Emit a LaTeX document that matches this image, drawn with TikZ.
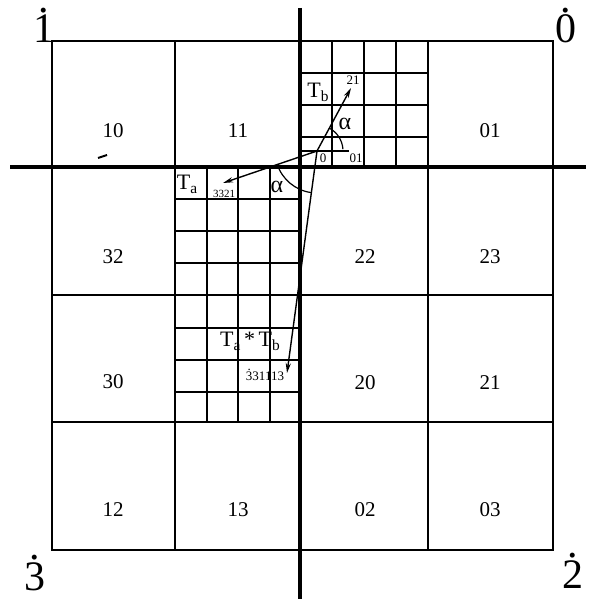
\documentclass[tikz,border=0pt]{standalone}
\usepackage{fontspec}
\setmainfont{Liberation Serif}
\usetikzlibrary{arrows.meta}
\newcommand\dotdig[1]{\ooalign{#1\cr\hidewidth\raisebox{0.72em}{\smash{.}}\hidewidth\cr}}
\newcommand\subs[1]{\raisebox{-0.4ex}{\scalebox{0.7}{#1}}}
\begin{document}
\begin{tikzpicture}[x=0.5pt,y=-0.5pt,
  gridline/.style={line width=1pt},
  fineline/.style={line width=0.85pt},
  axisline/.style={line width=2.4pt},
  vec/.style={line width=0.7pt,-{Stealth[length=5pt,width=2.6pt]}},
  anglearc/.style={line width=0.6pt},
  cell/.style={font=\fontsize{10.5}{12}\selectfont,inner sep=0pt},
  corner/.style={font=\fontsize{21}{24}\selectfont,inner sep=0pt,anchor=base},
  smalllab/.style={font=\fontsize{6.5}{7}\selectfont,inner sep=0pt},
  tinylab/.style={font=\fontsize{5.5}{6}\selectfont,inner sep=0pt},
  vlab/.style={font=\fontsize{11}{13}\selectfont,inner sep=0pt},
  alab/.style={font=\fontsize{12}{14}\selectfont,inner sep=0pt}]
\useasboundingbox (0,0) rectangle (592,599);
% fine grids
\foreach \x in {332,364,396} \draw[fineline] (\x,41) -- (\x,167);
\foreach \y in {73,105,137} \draw[fineline] (300,\y) -- (428,\y);
\draw[fineline] (300,151) -- (349,151);
\foreach \x in {207,238,270} \draw[fineline] (\x,167) -- (\x,422);
\foreach \y in {199,231,263,328,360,392} \draw[fineline] (175,\y) -- (300,\y);
% main grid
\draw[gridline] (52,41) rectangle (553,550);
\foreach \x in {175,428} \draw[gridline] (\x,41) -- (\x,550);
\foreach \y in {295,422} \draw[gridline] (52,\y) -- (553,\y);
% axes
\draw[axisline] (10,167) -- (586,167);
\draw[axisline] (300,8) -- (300,599);
% stray mark
\draw[line width=1pt] (98,158) -- (107,155);
% cell labels
\node[cell] (c10) at (113,131) {10};
\node[cell] (c11) at (238,131) {11};
\node[cell] (c01) at (490,131) {01};
\node[cell] (c32) at (113,257) {32};
\node[cell] (c22) at (365,257) {22};
\node[cell] (c23) at (490,257) {23};
\node[cell] (c30) at (113,382) {30};
\node[cell] (c20) at (365,383) {20};
\node[cell] (c21) at (490,383) {21};
\node[cell] (c12) at (113,510) {12};
\node[cell] (c13) at (238,510) {13};
\node[cell] (c02) at (365,510) {02};
\node[cell] (c03) at (490,510) {03};
% corner labels
\node[corner] (k1) at (44,43) {\dotdig{1}};
\node[corner] (k0) at (566,43) {\dotdig{0}};
\node[corner] (k3) at (35,590) {\dotdig{3}};
\node[corner] (k2) at (573,588) {\dotdig{2}};
% vectors
\coordinate (O) at (317,151);
\coordinate (Tb) at (351,88);
\coordinate (Ta) at (223,183);
\coordinate (Tab) at (287,373);
\draw[vec] (O) -- (Tb);
\draw[vec] (O) -- (Ta);
\draw[vec] (O) -- (Tab);
% angle arcs (y axis points down, so visual angles are negated)
\draw[anglearc] (O) ++(-62:26) arc[start angle=-62,end angle=-4,radius=26];
\draw[anglearc] (O) ++(162:42) arc[start angle=162,end angle=98,radius=42];
% labels
\node[vlab] (lTb) at (318,92) {T\subs{b}};
\node[smalllab] (l21) at (353,80) {21};
\node[alab] (la1) at (345,124) {α};
\node[smalllab] (l0) at (323,158) {0};
\node[smalllab] (l01) at (356,158) {01};
\node[vlab] (lTa) at (187,184) {T\subs{a}};
\node[tinylab] (l3321) at (224,194) {3321};
\node[alab] (la2) at (277,187) {α};
\node[vlab] (lTab) at (250,341) {T\subs{a}\,*\,T\subs{b}};
\node[smalllab] (l331113) at (265,376) {\dotdig{3}31113};
\end{tikzpicture}
\end{document}
